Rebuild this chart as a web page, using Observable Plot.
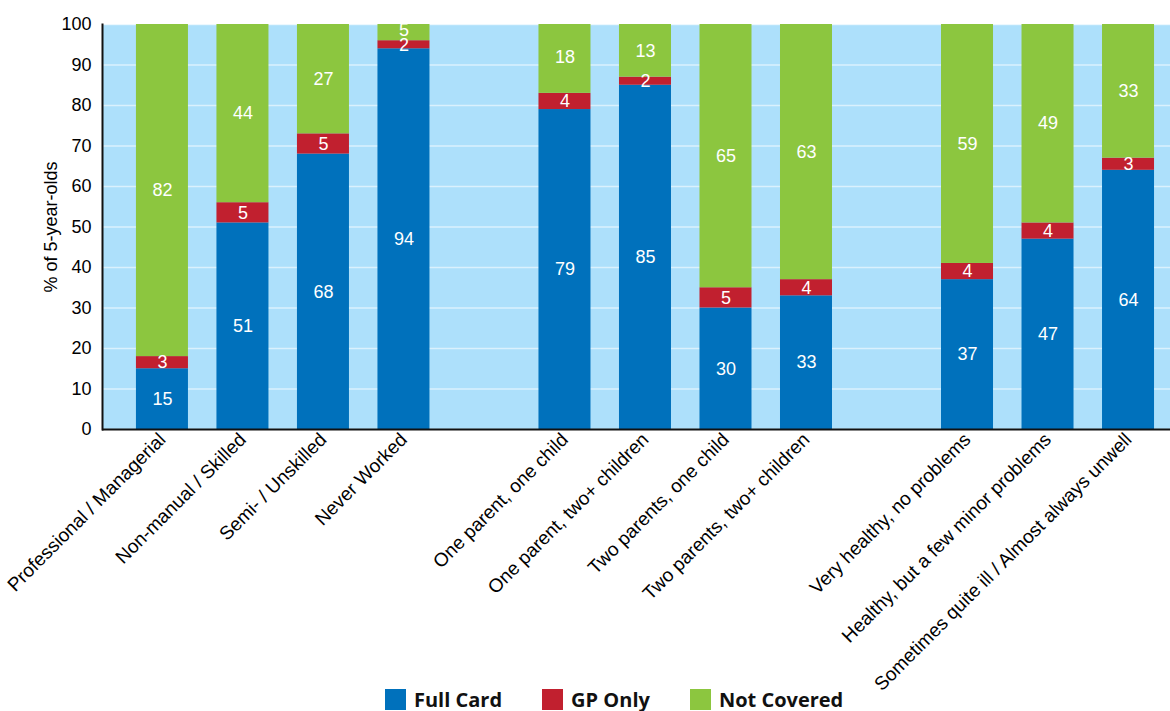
<!DOCTYPE html>
<html><head><meta charset="utf-8">
<script src="https://cdn.jsdelivr.net/npm/d3@7"></script>
<script src="https://cdn.jsdelivr.net/npm/@observablehq/plot@0.6"></script>
<style>
body{margin:0;background:#fff;font-family:"Liberation Sans",Arial,sans-serif;}
#chart{position:absolute;left:0;top:0;}
#legend{display:flex;align-items:center;position:absolute;left:385px;top:689px;font-family:"Open Sans",sans-serif;font-weight:700;font-size:20px;line-height:21px;color:#111;}
#legend .item{display:flex;align-items:center;}
#legend .sw{width:21px;height:21px;margin-right:8px;}
</style></head><body>
<div id="chart"></div>
<div id="legend"></div>
<script>
const categories = [
  "Professional / Managerial", "Non-manual / Skilled", "Semi- / Unskilled", "Never Worked",
  "One parent, one child", "One parent, two+ children", "Two parents, one child", "Two parents, two+ children",
  "Very healthy, no problems", "Healthy, but a few minor problems", "Sometimes quite ill / Almost always unwell"
];
const fullCard   = [15, 51, 68, 94, 79, 85, 30, 33, 37, 47, 64];
const gpOnly     = [3, 5, 5, 2, 4, 2, 5, 4, 4, 4, 3];
const notCovered = [82, 44, 27, 5, 18, 13, 65, 63, 59, 49, 33];
const seriesNames = ["Full Card", "GP Only", "Not Covered"];
const seriesColors = ["#0071bc", "#c1202f", "#8cc63f"];
const yTicks = [0, 10, 20, 30, 40, 50, 60, 70, 80, 90, 100];
const groupBreaks = [4, 8]; // spacer slots inserted before these category indices

const seriesValues = [fullCard, gpOnly, notCovered];
const rows = [];
categories.forEach((c, i) => {
  seriesNames.forEach((s, j) => rows.push({category: c, series: s, value: seriesValues[j][i]}));
});
const xDomain = [];
categories.forEach((c, i) => {
  if (groupBreaks.includes(i)) xDomain.push("__gap" + i);
  xDomain.push(c);
});

const chart = Plot.plot({
  width: 1170,
  height: 680,
  marginTop: 24,
  marginBottom: 251,
  marginLeft: 102,
  marginRight: 0,
  style: {fontFamily: "'Liberation Sans', Arial, sans-serif", fontSize: "18px", color: "#000", background: "transparent", overflow: "visible"},
  x: {domain: xDomain, paddingInner: 0.354, paddingOuter: 0.31, align: 0.68, round: false, label: null},
  y: {domain: [0, 100], label: null},
  color: {domain: seriesNames, range: seriesColors},
  marks: [
    Plot.frame({fill: "#ade0fb", stroke: null}),
    Plot.gridY(yTicks, {stroke: "white", strokeOpacity: 0.55, strokeWidth: 1.5}),
    Plot.barY(rows, {x: "category", y: "value", fill: "series", clip: true}),
    Plot.text(rows, Plot.stackY({x: "category", y: "value", z: "series", text: d => String(d.value), fill: "white", fontSize: 18})),
    Plot.axisY({ticks: yTicks, tickSize: 0, tickPadding: 11, fontSize: 18,
      label: "% of 5-year-olds", labelAnchor: "center", labelArrow: "none", labelOffset: 58}),
    Plot.axisX({tickSize: 0, tickPadding: 7, tickRotate: -45, fontSize: 19,
      tickFormat: d => d.startsWith("__gap") ? "" : d}),
    Plot.frame({anchor: "left", stroke: "#111", strokeWidth: 2}),
    Plot.ruleY([0], {stroke: "#111", strokeWidth: 2})
  ]
});
document.getElementById("chart").appendChild(chart);

const legend = document.getElementById("legend");
seriesNames.forEach((s, j) => {
  const item = document.createElement("div");
  item.className = "item";
  item.style.marginRight = j < seriesNames.length - 1 ? "40px" : "0";
  const sw = document.createElement("span");
  sw.className = "sw";
  sw.style.background = seriesColors[j];
  const t = document.createElement("span");
  t.textContent = s;
  item.appendChild(sw);
  item.appendChild(t);
  legend.appendChild(item);
});
</script>
</body></html>
